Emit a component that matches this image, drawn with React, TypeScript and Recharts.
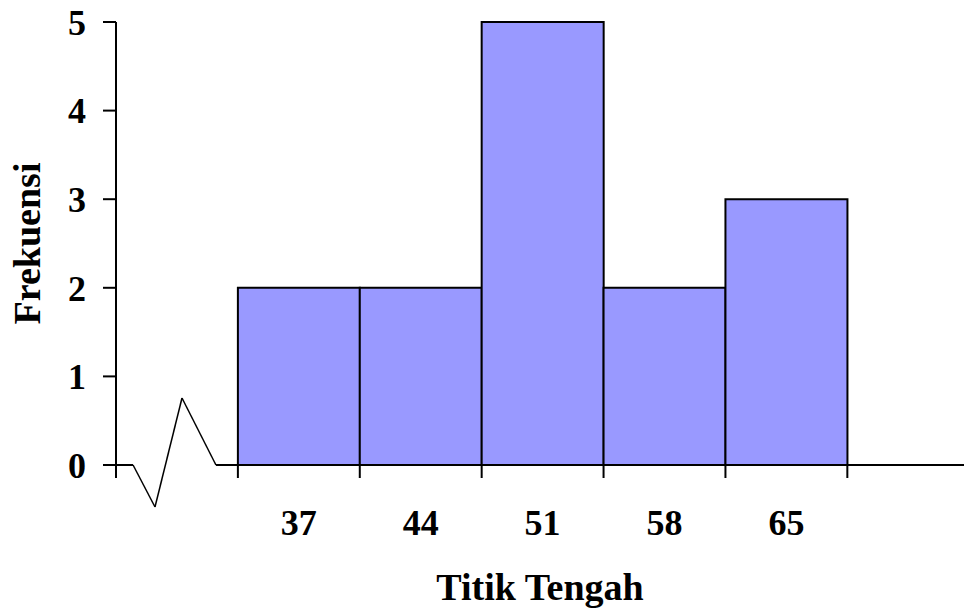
import React from 'react';
import {
  ComposedChart,
  Bar,
  XAxis,
  YAxis,
  ReferenceLine,
  Label,
} from 'recharts';

// Titik tengah tiap kelas dan frekuensinya
const midpoints = [37, 44, 51, 58, 65];
const frequencies = [2, 2, 5, 2, 3];
// Batas kelas (tepi bawah tiap kelas, plus satu kelas kosong di kiri)
const classBounds = [26.5, 33.5, 40.5, 47.5, 54.5, 61.5, 68.5];
const yTicks = [0, 1, 2, 3, 4, 5];
const xDomain: [number, number] = [26.5, 75.2];

// Tanda patahan sumbu X (zig-zag di antara 0 dan kelas pertama)
const axisBreak = [
  { x: 26.5, y: 0 },
  { x: 27.48, y: 0 },
  { x: 28.74, y: -0.474 },
  { x: 30.29, y: 0.756 },
  { x: 32.24, y: 0 },
];

const data = midpoints.map((mid, i) => ({ mid, freq: frequencies[i] }));

const FONT = '"Liberation Serif", "Times New Roman", serif';

// tick batas kelas: hanya garisnya, tanpa teks
const NoLabel = () => <g />;

const MidTick = (props: any) => {
  const { x, y, payload } = props;
  return (
    <text
      x={x}
      y={y + 69}
      textAnchor="middle"
      fontFamily={FONT}
      fontWeight="bold"
      fontSize={36}
      fill="#000"
    >
      {payload.value}
    </text>
  );
};

const YTitle = (props: any) => {
  const { viewBox } = props;
  const cx = viewBox.x - 88;
  const cy = viewBox.y + viewBox.height / 2;
  return (
    <text
      x={cx}
      y={cy}
      transform={`rotate(-90, ${cx}, ${cy})`}
      textAnchor="middle"
      dominantBaseline="central"
      fontFamily={FONT}
      fontWeight="bold"
      fontSize={38}
      fill="#000"
    >
      Frekuensi
    </text>
  );
};

const XTitle = (props: any) => {
  const { viewBox } = props;
  return (
    <text
      x={viewBox.x + viewBox.width / 2}
      y={600}
      textAnchor="middle"
      fontFamily={FONT}
      fontWeight="bold"
      fontSize={38}
      fill="#000"
    >
      Titik Tengah
    </text>
  );
};

export default function App() {
  const breakSegments = axisBreak.slice(1).map((p, i) => [axisBreak[i], p]);

  return (
    <div style={{ position: 'absolute', left: 0, top: 0, width: 964, height: 610, background: '#fff' }}>
      <ComposedChart
        width={964}
        height={610}
        data={data}
        margin={{ top: 22, right: 0, bottom: 143, left: 115 }}
        barCategoryGap={0}
        barGap={0}
      >
        <XAxis
          xAxisId="bins"
          dataKey="mid"
          type="number"
          domain={xDomain}
          allowDataOverflow
          ticks={classBounds}
          interval={0}
          height={1}
          axisLine={false}
          tick={<NoLabel />}
          tickSize={13}
          tickLine={{ stroke: '#000', strokeWidth: 2 }}
        >
          <Label content={XTitle} />
        </XAxis>
        <XAxis
          xAxisId="mids"
          dataKey="mid"
          type="number"
          domain={xDomain}
          allowDataOverflow
          ticks={midpoints}
          interval={0}
          height={1}
          axisLine={false}
          tickLine={false}
          tickSize={0}
          tickMargin={0}
          tick={<MidTick />}
        />
        <YAxis
          type="number"
          domain={[0, 5]}
          ticks={yTicks}
          interval={0}
          width={1}
          axisLine={{ stroke: '#000', strokeWidth: 2 }}
          tickLine={{ stroke: '#000', strokeWidth: 2 }}
          tickSize={13}
          tickMargin={17}
          tick={{ fill: '#000', fontFamily: FONT, fontWeight: 'bold', fontSize: 36 }}
        >
          <Label content={YTitle} />
        </YAxis>
        <Bar
          xAxisId="bins"
          dataKey="freq"
          fill="#9999FF"
          stroke="#000"
          strokeWidth={2}
          isAnimationActive={false}
        />
        {breakSegments.map((seg, i) => (
          <ReferenceLine
            key={i}
            xAxisId="bins"
            segment={seg}
            ifOverflow="visible"
            stroke="#000"
            strokeWidth={i === 0 ? 2 : 1.5}
          />
        ))}
        <ReferenceLine
          xAxisId="bins"
          segment={[{ x: 32.24, y: 0 }, { x: xDomain[1], y: 0 }]}
          ifOverflow="visible"
          stroke="#000"
          strokeWidth={2}
        />
      </ComposedChart>
    </div>
  );
}
